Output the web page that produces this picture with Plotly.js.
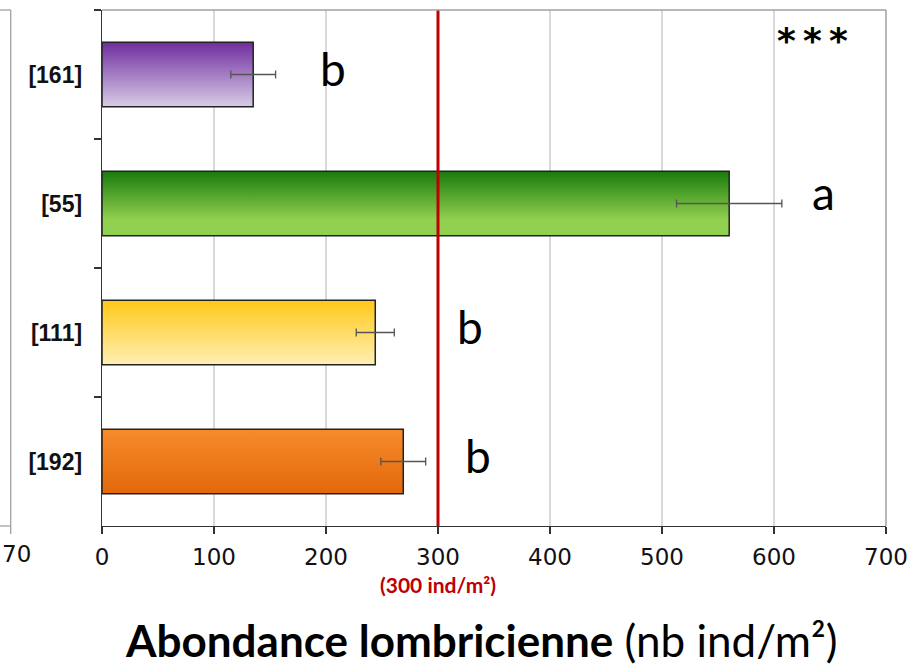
<!DOCTYPE html>
<html>
<head>
<meta charset="utf-8">
<script src="https://cdn.plot.ly/plotly-3.0.1.min.js"></script>
<style>
  html, body { margin: 0; padding: 0; background: #fff; }
  #chart { width: 908px; height: 665px; }
</style>
</head>
<body>
<div id="chart"></div>
<script>
// Data (top to bottom)
const categories = ['[161]', '[55]', '[111]', '[192]'];
const means = [135, 560, 244, 269];
const errors = [20, 47, 17, 20];
const letters = ['b', 'a', 'b', 'b'];
const letterX = [206, 644, 329, 336];
const xTicks = [0, 100, 200, 300, 400, 500, 600, 700];
const threshold = 300;

const gradients = [
  ['#6f2d9f', '#d8cce6'],
  ['#187a0c', '#92d050'],
  ['#ffc818', '#fff0b4'],
  ['#f78b2c', '#e3680a']
];

const trace = {
  type: 'bar',
  orientation: 'h',
  x: means,
  y: categories,
  marker: { color: gradients.map(g => g[1]), line: { color: '#222222', width: 1.5 } },
  error_x: { type: 'data', array: errors, visible: true, color: '#555555', thickness: 1.3, width: 4 },
  hoverinfo: 'none'
};

const plotL = 102, plotR = 886, plotT = 10, plotB = 526;
const pw = plotR - plotL, ph = plotB - plotT;
const px = p => (p - plotL) / pw;
const py = p => (plotB - p) / ph;

const letterShift = [6, 11, 6, 6];
const annotations = letters.map((t, i) => ({
  x: letterX[i], y: categories[i], xref: 'x', yref: 'y',
  xanchor: 'center', yanchor: 'middle',
  text: t, showarrow: false, yshift: letterShift[i],
  font: { family: 'Lato, "Open Sans", sans-serif', size: 46, color: '#000' }
}));

annotations.push({
  x: px(812), y: py(40), xref: 'paper', yref: 'paper', xanchor: 'center', yanchor: 'middle',
  text: '<b>*\u2009*\u2009*</b>', showarrow: false,
  font: { family: '"DejaVu Sans", sans-serif', size: 36, color: '#000' }
});
annotations.push({
  x: threshold, y: py(584), xref: 'x', yref: 'paper', xanchor: 'center', yanchor: 'middle',
  text: '<b>(300 ind/m²)</b>', showarrow: false,
  font: { family: 'Lato, sans-serif', size: 21, color: '#c00000' }
});
annotations.push({
  x: px(481), y: py(640), xref: 'paper', yref: 'paper', xanchor: 'center', yanchor: 'middle',
  text: '<b>Abondance lombricienne</b> (nb ind/m²)', showarrow: false,
  font: { family: 'Lato, sans-serif', size: 44, color: '#000' }
});
annotations.push({
  x: px(0), y: py(554), xref: 'paper', yref: 'paper', xanchor: 'left', yanchor: 'middle',
  text: '70', showarrow: false,
  font: { family: '"DejaVu Sans", sans-serif', size: 23, color: '#111' }
});

const shapes = [
  { type: 'line', xref: 'x', yref: 'paper', x0: threshold, x1: threshold, y0: 0, y1: 1, line: { color: '#c00000', width: 3 } },
  { type: 'line', xref: 'paper', yref: 'paper', x0: 0, x1: 1, y0: 1, y1: 1, line: { color: '#a0a0a0', width: 1.5 } },
  { type: 'line', xref: 'paper', yref: 'paper', x0: 1, x1: 1, y0: 0, y1: 1, line: { color: '#a0a0a0', width: 1.5 } },
  // partial neighbouring chart at the left edge
  { type: 'line', xref: 'paper', yref: 'paper', x0: px(10.7), x1: px(10.7), y0: py(534), y1: 1, line: { color: '#a0a0a0', width: 1.3 } },
  { type: 'line', xref: 'paper', yref: 'paper', x0: px(-2), x1: px(10.7), y0: 1, y1: 1, line: { color: '#a0a0a0', width: 1.3 } },
  { type: 'line', xref: 'paper', yref: 'paper', x0: px(-2), x1: px(10.7), y0: 0, y1: 0, line: { color: '#a0a0a0', width: 1.3 } }
];

const layout = {
  width: 908, height: 665,
  margin: { l: plotL, r: 908 - plotR, t: plotT, b: 665 - plotB, pad: 0 },
  paper_bgcolor: '#fff', plot_bgcolor: '#fff',
  showlegend: false,
  bargap: 0.5,
  xaxis: {
    range: [0, 700], tickvals: xTicks, ticktext: xTicks.map(String),
    showgrid: true, gridcolor: '#d9d9d9', gridwidth: 1.3,
    zeroline: false, showline: true, linecolor: '#333', linewidth: 1.3,
    ticks: 'outside', ticklen: 7, tickcolor: '#333', tickwidth: 1.3,
    ticklabelstandoff: 3,
    tickfont: { family: '"DejaVu Sans", sans-serif', size: 23, color: '#111' },
    fixedrange: true
  },
  yaxis: {
    type: 'category', autorange: 'reversed',
    showgrid: false, zeroline: false, showline: true, linecolor: '#333', linewidth: 1.3,
    ticks: 'outside', ticklen: 7, tickcolor: '#333', tickwidth: 1.3, tickson: 'boundaries',
    ticklabelstandoff: 14,
    tickfont: { family: '"Liberation Sans", Arial, sans-serif', size: 23, color: '#111', weight: 'bold' },
    fixedrange: true
  },
  shapes: shapes,
  annotations: annotations
};

Plotly.newPlot('chart', [trace], layout, { displayModeBar: false, staticPlot: true }).then(gd => {
  const svg = gd.querySelector('.main-svg');
  let defs = svg.querySelector('defs');
  const ns = 'http://www.w3.org/2000/svg';
  gradients.forEach((g, i) => {
    const lg = document.createElementNS(ns, 'linearGradient');
    lg.setAttribute('id', 'bargrad' + i);
    lg.setAttribute('x1', '0'); lg.setAttribute('y1', '0');
    lg.setAttribute('x2', '0'); lg.setAttribute('y2', '1');
    const stops = i === 1 ? [[0, g[0]], [0.75, g[1]], [1, g[1]]] : [[0, g[0]], [1, g[1]]];
    stops.forEach(s => {
      const st = document.createElementNS(ns, 'stop');
      st.setAttribute('offset', s[0]);
      st.setAttribute('stop-color', s[1]);
      lg.appendChild(st);
    });
    defs.appendChild(lg);
  });
  const paths = gd.querySelectorAll('.barlayer .point path');
  paths.forEach((p, i) => { p.style.fill = 'url(#bargrad' + i + ')'; });
});
</script>
</body>
</html>
